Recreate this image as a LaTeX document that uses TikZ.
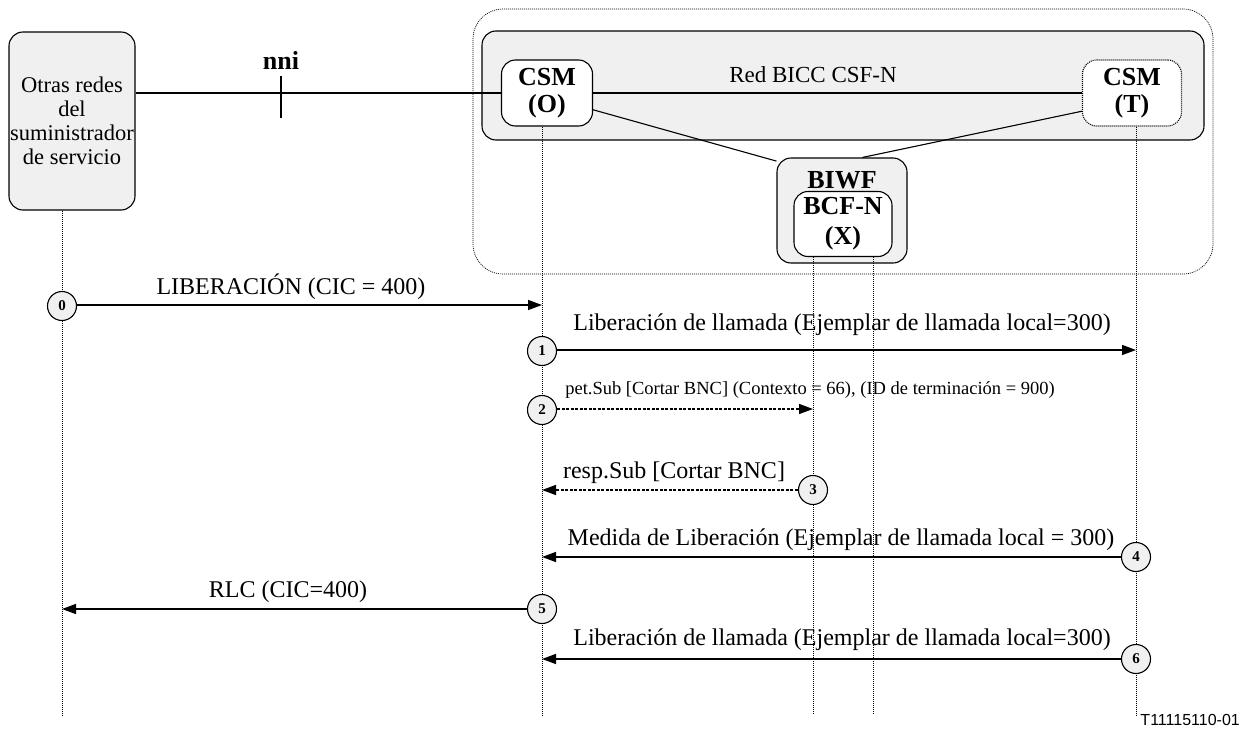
\documentclass[tikz,border=0pt]{standalone}
\usepackage{fontspec}
\setmainfont{Liberation Serif}
\newfontfamily\arialfont{Liberation Sans}
\usetikzlibrary{arrows.meta}
\definecolor{boxgrey}{HTML}{F0F0F0}
\tikzset{
  box/.style={draw, line width=1.1pt, rounded corners=14pt, fill=boxgrey, inner sep=0pt},
  wbox/.style={box, fill=white},
  dotline/.style={line width=0.7pt, dash pattern=on 1pt off 1pt},
  msg/.style={line width=1.4pt, -{Triangle[length=14pt,width=10pt]}},
  dmsg/.style={msg, dash pattern=on 3pt off 1.5pt},
  num/.style={circle, draw, line width=1.1pt, fill=boxgrey, minimum size=29pt, inner sep=0pt, font=\fontsize{15}{15}\selectfont\bfseries},
  lbl/.style={font=\fontsize{24}{26}\selectfont, inner sep=0pt},
  smalllbl/.style={font=\fontsize{18.5}{20}\selectfont, inner sep=0pt},
  boldtxt/.style={font=\fontsize{26}{27}\selectfont\bfseries, align=center, inner sep=0pt}
}
\begin{document}
\begin{tikzpicture}[x=1pt,y=-1pt]
\fill[white] (0,0) rectangle (1243,747);
\useasboundingbox (0,0) rectangle (1243,747);

% frames
\node[draw, dotline, rounded corners=30pt, minimum width=740pt, minimum height=265pt, inner sep=0pt] (frame) at (843,141.5) {};
\node[box, minimum width=722pt, minimum height=109pt] (band) at (843,85.5) {};
\node[font=\fontsize{23}{24}\selectfont, inner sep=0pt] (bandlbl) at (813,75) {Red BICC CSF-N};

% left box
\node[box, minimum width=126pt, minimum height=178pt, align=center, font=\fontsize{22.5}{24}\selectfont] (other) at (72,121) {Otras redes\\del\\suministrador\\de servicio};

% CSM boxes
\node[wbox, minimum width=91pt, minimum height=66pt, boldtxt] (csmO) at (547,93) {CSM\\(O)};
\node[wbox, dash pattern=on 1pt off 1pt, minimum width=99pt, minimum height=66pt, boldtxt] (csmT) at (1132,93) {CSM\\(T)};

% BIWF
\node[box, minimum width=130pt, minimum height=105pt] (biwf) at (842,210.5) {};
\node[wbox, minimum width=98pt, minimum height=65pt, font=\fontsize{26}{30}\selectfont\bfseries, align=center] (bcf) at (843,224) {BCF-N\\(X)};
\node[boldtxt] (biwflbl) at (842,180) {BIWF};

% links
\draw[line width=1.1pt] (other.east |- csmO.west) -- (csmO.west);
\coordinate (nnitop) at (281,76);
\coordinate (nnibot) at (281,118);
\draw[line width=1.1pt] (nnitop) -- (nnibot);
\node[boldtxt] (nni) at (281,60) {nni};
\draw[line width=1.1pt] (csmO.east) -- (csmT.west);
\draw[line width=1.1pt] (csmO.-20) -- (biwf.143);
\draw[line width=1.1pt] (biwf.69) -- (csmT.200);

% lifelines
\coordinate (b0) at (62,715);
\coordinate (b1) at (542,715);
\coordinate (b2) at (813,715);
\coordinate (b3) at (873,715);
\coordinate (b4) at (1136,715);
\draw[dotline] (b0 |- other.south) -- (b0);
\draw[dotline] (b1 |- csmO.south) -- (b1);
\draw[dotline] (b2 |- bcf.south) -- (b2);
\draw[dotline] (b3 |- bcf.south) -- (b3);
\draw[dotline] (b4 |- csmT.south) -- (b4);

% messages
\node[num] (n0) at (62,306) {0};
\coordinate (e0) at (542,305);
\draw[msg] (n0.east |- e0) -- (e0);
\node[lbl] (t0) at (291,287) {LIBERACIÓN (CIC = 400)};

\node[num] (n1) at (542,351) {1};
\coordinate (e1) at (1136,350);
\draw[msg] (n1.east |- e1) -- (e1);
\node[lbl] (t1) at (842,325) {Liberación de llamada (Ejemplar de llamada local=300)};

\node[num] (n2) at (542,410) {2};
\coordinate (e2) at (813,409);
\draw[dmsg] (n2.east |- e2) -- (e2);
\node[smalllbl] (t2) at (810,390) {pet.Sub [Cortar BNC] (Contexto = 66), (ID de terminación = 900)};

\node[num] (n3) at (813,490) {3};
\coordinate (e3) at (542,490);
\draw[dmsg] (n3) -- (e3);
\node[lbl] (t3) at (674,473) {resp.Sub [Cortar BNC]};

\node[num] (n4) at (1136,557) {4};
\coordinate (e4) at (542,557);
\draw[msg] (n4) -- (e4);
\node[lbl] (t4) at (841,540) {Medida de Liberación (Ejemplar de llamada local = 300)};

\node[num] (n5) at (542,609) {5};
\coordinate (e5) at (62,609);
\draw[msg] (n5) -- (e5);
\node[lbl] (t5) at (288,592) {RLC (CIC=400)};

\node[num] (n6) at (1136,659) {6};
\coordinate (e6) at (542,659);
\draw[msg] (n6) -- (e6);
\node[lbl] (t6) at (842,640) {Liberación de llamada (Ejemplar de llamada local=300)};

\node[anchor=east, font=\arialfont\fontsize{16}{16}\selectfont, inner sep=0pt] (code) at (1240,720) {T11115110-01};
\end{tikzpicture}
\end{document}
